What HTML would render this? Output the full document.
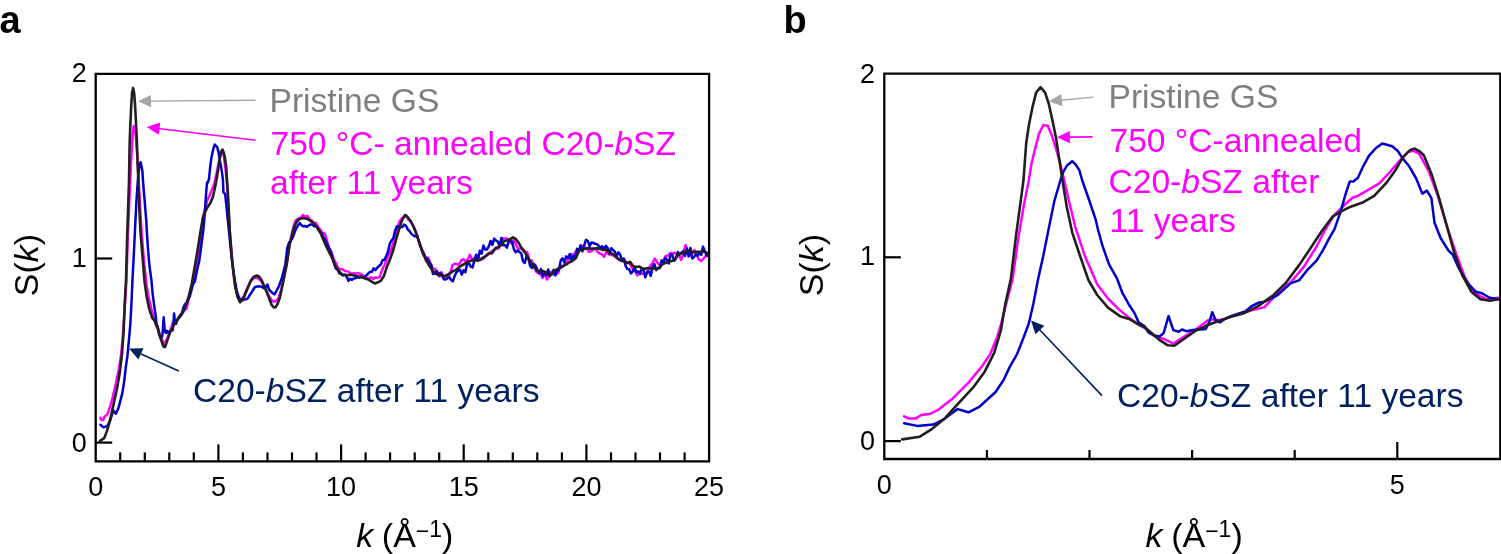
<!DOCTYPE html><html><head><meta charset="utf-8"><style>html,body{margin:0;padding:0;background:#fff;}svg{display:block}</style></head><body>
<svg width="1501" height="554" viewBox="0 0 1501 554" font-family="Liberation Sans, Arial, sans-serif">
<rect width="1501" height="554" fill="#fff"/>
<defs><clipPath id="ca"><rect x="95.7" y="73.8" width="613.4" height="387.6"/></clipPath>
<clipPath id="cb"><rect x="884.3" y="73.7" width="619.0" height="385.3"/></clipPath></defs>
<g clip-path="url(#ca)">
<polyline points="100.4,417.9 101.6,420.0 103.2,420.1 104.5,416.5 106.8,415.2 108.7,411.0 112.0,400.2 115.8,384.0 119.1,367.7 121.0,355.5 122.6,339.2 123.6,325.7 124.6,309.4 126.4,280.5 127.7,240.8 129.0,208.2 130.3,181.1 130.9,164.0 131.8,149.6 132.6,135.2 133.7,126.1 134.8,127.0 135.7,135.2 136.8,149.6 137.8,165.8 138.7,181.1 140.2,208.2 141.5,229.9 143.6,257.0 145.1,271.2 146.6,285.4 149.2,299.9 151.8,310.7 154.4,319.7 157.0,327.0 158.7,331.3 160.9,339.0 162.5,340.1 164.8,344.9 167.4,337.9 170.0,331.4 173.1,321.6 174.4,320.6 176.0,321.6 178.4,318.4 183.5,311.7 186.6,308.4 189.8,294.4 192.9,283.5 196.0,268.3 199.1,247.7 201.2,230.5 203.3,215.9 205.5,206.9 207.7,198.8 209.0,197.0 211.5,190.7 214.1,184.3 216.7,172.6 219.3,159.9 221.0,152.7 222.3,151.8 223.6,154.8 225.8,171.7 227.0,184.2 228.0,200.9 230.2,236.7 232.4,263.0 234.6,282.4 236.8,293.1 239.0,298.8 241.2,299.5 243.4,296.9 245.6,291.8 247.8,287.0 250.0,282.4 252.2,279.7 254.4,277.8 256.6,277.4 258.8,279.1 261.0,280.7 263.2,284.7 265.4,289.0 267.6,293.5 269.8,297.2 272.0,300.7 274.2,301.8 276.4,300.7 278.6,297.8 280.8,291.1 283.0,281.2 285.2,270.8 287.4,259.6 289.6,244.5 291.8,234.3 294.0,224.5 296.2,219.8 298.4,218.7 300.6,217.7 302.8,215.0 305.0,217.1 307.2,215.8 309.4,218.7 311.6,220.4 313.8,222.9 316.0,222.7 318.2,227.0 320.4,229.8 322.6,233.0 324.8,233.6 327.0,240.9 329.2,248.2 331.4,251.9 333.6,258.9 335.8,262.8 338.0,267.8 340.2,269.3 342.4,269.3 344.6,270.8 346.8,271.2 349.0,271.9 351.2,274.3 353.4,273.2 355.6,273.6 357.8,273.1 360.0,273.7 362.2,274.8 364.4,276.5 366.6,277.8 368.8,278.7 371.0,277.2 373.2,278.9 375.4,277.2 377.6,278.0 379.8,276.9 382.0,270.1 384.2,265.7 386.4,260.5 388.6,254.5 390.8,251.1 393.0,243.7 395.2,237.2 397.4,229.0 399.6,221.2 401.8,218.4 404.0,216.9 406.2,215.0 408.4,219.7 410.6,221.7 412.8,224.9 415.0,229.7 417.2,235.1 419.4,244.1 421.6,248.5 423.8,252.5 426.0,261.1 428.2,257.6 430.4,263.0 432.6,268.6 434.8,268.7 437.0,271.0 439.2,276.5 441.4,272.2 443.6,276.4 445.8,275.1 448.0,277.4 450.2,273.4 452.4,265.2 454.6,263.7 456.8,264.2 459.0,264.7 461.2,260.6 463.4,259.1 465.6,261.3 467.8,259.6 470.0,254.7 472.2,260.4 474.4,258.0 476.6,256.7 478.8,260.1 481.0,259.9 483.2,258.9 485.4,256.7 487.6,253.8 489.8,252.6 492.0,251.1 494.2,249.9 496.4,248.8 498.6,248.6 500.8,242.3 503.0,238.4 505.2,238.5 507.4,238.7 509.6,240.2 511.8,243.9 514.0,239.3 516.2,244.7 518.4,249.8 520.6,248.0 522.8,248.6 525.0,251.7 527.2,252.3 529.4,260.0 531.6,260.4 533.8,265.1 536.0,271.6 538.2,273.3 540.4,273.4 542.6,278.0 544.8,273.7 547.0,279.5 549.2,275.2 551.4,271.9 553.6,274.6 555.8,272.1 558.0,273.3 560.2,265.3 562.4,266.9 564.6,264.0 566.8,263.3 569.0,257.9 571.2,254.0 573.4,255.5 575.6,252.0 577.8,254.0 580.0,248.7 582.2,246.4 584.4,247.7 586.6,247.7 588.8,251.7 591.0,251.2 593.2,249.8 595.4,248.2 597.6,251.9 599.8,253.6 602.0,254.3 604.2,256.8 606.4,251.8 608.6,254.2 610.8,255.1 613.0,255.3 615.2,256.7 617.4,258.6 619.6,260.1 621.8,259.1 624.0,259.2 626.2,262.0 628.4,262.3 630.6,265.1 632.8,269.2 635.0,270.5 637.2,275.4 639.4,273.4 641.6,273.3 643.8,274.0 646.0,274.4 648.2,269.8 650.4,265.7 652.6,263.0 654.8,258.6 657.0,262.2 659.2,264.6 661.4,262.9 663.6,259.8 665.8,255.8 668.0,255.8 670.2,252.9 672.4,253.7 674.6,252.6 676.8,253.9 679.0,255.7 681.2,259.8 683.4,252.9 685.6,245.2 687.8,251.5 690.0,255.8 692.2,253.2 694.4,250.1 696.6,254.9 698.8,259.3 701.0,261.1 703.2,258.9 705.4,256.4 707.6,254.9 709.0,253.0" fill="none" stroke="#ff00ff" stroke-width="2.5" stroke-linejoin="round" stroke-linecap="round"/>
<polyline points="100.4,424.7 103.5,427.4 107.4,426.0 110.0,420.6 113.3,410.5 115.8,413.8 118.4,408.3 122.3,393.4 124.2,381.4 125.7,368.0 127.5,355.4 129.0,339.1 130.3,324.6 131.4,304.8 132.4,281.2 133.7,257.0 135.0,229.9 136.3,202.8 137.8,181.1 138.5,173.2 139.4,166.6 140.6,162.2 141.5,166.0 142.4,171.4 143.0,181.1 144.5,199.1 146.3,220.8 146.8,231.2 147.9,247.4 149.4,265.5 151.4,279.9 152.7,294.5 154.4,307.1 155.5,314.1 156.5,323.8 157.8,327.1 158.9,333.6 160.1,336.8 161.5,337.9 162.5,334.6 163.7,317.3 164.8,331.4 166.1,333.0 166.9,330.8 167.9,332.5 169.5,331.4 171.3,330.8 172.6,330.3 173.4,323.8 174.1,313.5 174.9,321.6 176.0,323.8 177.0,320.6 178.4,317.8 182.0,312.8 183.5,307.4 185.1,304.1 186.6,303.0 188.7,298.7 189.8,296.5 192.9,284.5 194.9,281.3 197.0,270.5 199.1,261.8 200.6,251.0 202.3,238.0 203.3,230.5 204.9,212.3 205.9,196.1 207.0,182.5 207.9,182.5 209.0,178.9 210.2,167.2 211.5,157.2 213.3,149.0 214.8,144.5 217.2,147.2 218.5,151.8 219.7,159.9 221.0,166.2 221.7,170.6 222.9,179.4 223.4,192.3 225.2,194.1 226.0,201.8 227.8,219.8 229.6,237.5 231.4,255.3 233.2,269.9 235.0,281.4 236.8,291.0 238.6,296.6 240.4,300.6 242.2,300.5 244.0,299.4 245.8,299.2 247.6,298.6 249.4,295.6 251.2,293.1 253.0,290.0 254.8,287.2 256.6,286.6 258.4,286.2 260.2,286.4 262.0,287.0 263.8,288.2 265.6,287.3 267.4,284.5 269.2,290.0 271.0,291.5 272.8,293.3 274.6,294.3 276.4,291.0 278.2,287.7 280.0,283.2 281.8,278.2 283.6,271.4 285.4,264.2 287.2,248.3 289.0,242.5 290.8,240.9 292.6,237.7 294.4,232.9 296.2,228.4 298.0,225.6 299.8,223.1 301.6,225.3 303.4,226.4 305.2,226.0 307.0,226.8 308.8,225.5 310.6,224.4 312.4,224.8 314.2,226.2 316.0,226.2 317.8,228.4 319.6,232.0 321.4,232.7 323.2,237.2 325.0,239.4 326.8,243.6 328.6,247.4 330.4,251.0 332.2,256.3 334.0,263.3 335.8,268.5 337.6,269.7 339.4,273.4 341.2,274.0 343.0,275.5 344.8,274.7 346.6,276.5 348.4,280.9 350.2,278.8 352.0,279.8 353.8,278.5 355.6,278.2 357.4,277.1 359.2,277.7 361.0,276.3 362.8,277.3 364.6,277.0 366.4,275.3 368.2,273.5 370.0,271.8 371.8,271.8 373.6,268.4 375.4,270.2 377.2,267.8 379.0,266.0 380.8,264.5 382.6,260.1 384.4,260.0 386.2,256.1 388.0,251.8 389.8,243.6 391.6,240.4 393.4,238.1 395.2,230.3 397.0,226.2 398.8,227.2 400.6,227.2 402.4,227.1 404.2,224.6 406.0,225.8 407.8,229.5 409.6,231.2 411.4,233.9 413.2,235.4 415.0,236.4 416.8,235.3 418.6,240.4 420.4,246.3 422.2,251.6 424.0,254.4 425.8,257.7 427.6,259.6 429.4,262.7 431.2,265.0 433.0,273.9 434.8,273.6 436.6,271.4 438.4,274.7 440.2,273.0 442.0,274.9 443.8,279.3 445.6,279.5 447.4,278.4 449.2,277.0 451.0,279.7 452.8,281.3 454.6,276.2 456.4,272.2 458.2,270.8 460.0,269.6 461.8,274.6 463.6,270.2 465.4,272.2 467.2,263.7 469.0,263.3 470.8,266.6 472.6,267.5 474.4,260.1 476.2,254.7 478.0,260.1 479.8,250.8 481.6,253.7 483.4,245.6 485.2,249.6 487.0,249.4 488.8,246.3 490.6,241.0 492.4,244.9 494.2,238.6 496.0,240.5 497.8,241.6 499.6,246.3 501.4,237.9 503.2,245.2 505.0,245.0 506.8,247.6 508.6,241.8 510.4,240.8 512.2,242.1 514.0,249.5 515.8,252.2 517.6,250.6 519.4,251.9 521.2,253.3 523.0,261.3 524.8,263.0 526.6,255.8 528.4,258.3 530.2,266.2 532.0,268.0 533.8,264.0 535.6,265.7 537.4,269.8 539.2,273.3 541.0,269.0 542.8,276.1 544.6,273.2 546.4,275.2 548.2,269.5 550.0,276.1 551.8,273.8 553.6,269.9 555.4,275.4 557.2,270.9 559.0,270.1 560.8,260.3 562.6,258.2 564.4,262.5 566.2,256.4 568.0,258.0 569.8,254.1 571.6,261.6 573.4,255.7 575.2,257.4 577.0,248.8 578.8,251.0 580.6,245.2 582.4,251.3 584.2,245.3 586.0,239.9 587.8,240.8 589.6,246.2 591.4,242.6 593.2,242.8 595.0,243.8 596.8,244.0 598.6,246.0 600.4,247.6 602.2,246.4 604.0,249.5 605.8,245.9 607.6,247.8 609.4,253.9 611.2,248.2 613.0,250.1 614.8,251.5 616.6,256.1 618.4,252.4 620.2,254.6 622.0,260.9 623.8,258.6 625.6,265.8 627.4,269.1 629.2,269.3 631.0,273.4 632.8,271.6 634.6,267.6 636.4,272.2 638.2,271.4 640.0,274.0 641.8,268.7 643.6,270.2 645.4,277.5 647.2,271.5 649.0,271.6 650.8,275.9 652.6,266.4 654.4,264.1 656.2,270.1 658.0,268.1 659.8,267.9 661.6,260.4 663.4,263.9 665.2,258.1 667.0,259.5 668.8,263.5 670.6,254.6 672.4,255.0 674.2,260.8 676.0,258.4 677.8,252.1 679.6,254.6 681.4,252.9 683.2,251.1 685.0,256.0 686.8,248.4 688.6,256.4 690.4,248.0 692.2,258.4 694.0,257.1 695.8,254.4 697.6,255.9 699.4,252.4 701.2,255.0 703.0,246.7 704.8,251.3 706.6,255.5 708.4,256.2 709.0,251.2" fill="none" stroke="#0000cc" stroke-width="2.5" stroke-linejoin="round" stroke-linecap="round"/>
<polyline points="100.0,440.9 104.2,438.2 106.8,431.4 110.0,420.6 113.3,405.6 117.1,388.0 119.7,373.1 122.0,354.2 123.6,331.1 124.7,304.8 126.0,280.5 127.2,235.4 128.1,208.2 129.0,181.1 129.6,144.2 130.3,126.1 131.1,108.1 132.0,93.5 133.1,88.1 134.2,93.5 135.0,104.4 135.9,120.7 136.8,138.8 137.6,162.2 138.3,180.4 139.3,208.2 140.6,233.5 142.4,255.2 144.5,281.2 146.6,296.3 149.2,308.9 152.2,317.9 154.5,320.6 156.5,326.0 157.8,328.1 159.6,334.6 161.5,341.1 163.5,346.6 165.1,347.1 167.4,340.1 170.0,332.5 172.6,327.1 174.7,323.8 178.4,318.4 181.5,314.9 185.1,307.4 188.7,296.5 191.8,283.5 194.9,266.1 198.1,246.7 200.3,232.7 202.9,217.7 205.1,212.3 207.2,207.8 210.2,203.3 212.9,197.0 215.9,183.4 218.0,170.8 219.7,158.1 221.5,150.9 222.6,149.6 223.8,152.7 224.7,156.3 226.1,166.1 227.9,193.2 229.7,230.0 232.2,261.6 235.1,286.2 237.5,297.0 240.0,302.3 243.8,297.7 246.0,292.3 250.9,280.4 253.5,277.0 256.9,275.5 259.5,277.0 261.8,280.4 266.8,292.3 271.8,305.2 273.8,307.5 275.7,307.2 277.5,304.0 279.7,298.3 282.7,284.4 286.7,264.6 289.6,244.7 293.6,228.8 296.5,222.0 299.6,218.9 303.5,218.0 307.5,218.9 313.4,222.9 316.5,226.5 320.0,231.7 325.8,245.4 330.0,253.8 333.0,260.3 336.0,267.2 339.0,271.3 342.0,274.5 345.0,274.7 348.0,275.3 351.0,274.8 354.0,275.4 357.0,276.0 360.0,276.9 363.0,277.7 366.0,278.7 369.0,279.9 372.0,281.9 375.0,283.5 378.0,282.3 381.0,280.6 384.0,275.7 387.0,266.6 390.0,259.4 393.0,251.0 396.0,239.9 399.0,229.4 402.0,220.3 405.0,215.1 408.0,217.5 411.0,221.7 414.0,227.6 417.0,235.7 420.0,244.1 423.0,253.8 426.0,259.7 429.0,265.4 432.0,269.9 435.0,273.1 438.0,275.0 441.0,275.3 444.0,277.0 447.0,275.1 450.0,273.2 453.0,271.1 456.0,269.9 459.0,267.3 462.0,265.2 465.0,263.8 468.0,261.4 471.0,260.7 474.0,259.8 477.0,260.8 480.0,259.7 483.0,257.7 486.0,255.9 489.0,253.5 492.0,253.3 495.0,248.5 498.0,247.2 501.0,245.1 504.0,241.4 507.0,240.3 510.0,239.3 513.0,237.3 516.0,239.2 519.0,243.3 522.0,248.8 525.0,252.4 528.0,257.9 531.0,262.7 534.0,267.2 537.0,270.3 540.0,272.1 543.0,271.0 546.0,272.4 549.0,275.4 552.0,273.5 555.0,270.7 558.0,268.7 561.0,267.5 564.0,265.5 567.0,264.0 570.0,262.0 573.0,260.4 576.0,258.0 579.0,250.3 582.0,249.8 585.0,248.8 588.0,248.3 591.0,248.6 594.0,248.5 597.0,248.2 600.0,248.9 603.0,250.1 606.0,249.5 609.0,252.6 612.0,253.4 615.0,255.8 618.0,258.5 621.0,260.8 624.0,261.3 627.0,263.1 630.0,261.9 633.0,265.9 636.0,267.0 639.0,266.5 642.0,268.2 645.0,268.8 648.0,268.0 651.0,268.7 654.0,268.2 657.0,268.6 660.0,267.3 663.0,263.5 666.0,262.9 669.0,261.5 672.0,261.0 675.0,259.1 678.0,254.6 681.0,253.3 684.0,252.9 687.0,251.0 690.0,250.9 693.0,252.3 696.0,251.7 699.0,251.7 702.0,251.8 705.0,251.7 708.0,253.9 708.7,254.1" fill="none" stroke="#231f20" stroke-width="2.6" stroke-linejoin="round" stroke-linecap="round"/>
</g>
<g clip-path="url(#cb)">
<polyline points="904.1,416.4 909.0,418.5 915.7,418.6 921.1,415.0 930.6,413.7 938.7,409.6 952.3,398.8 968.5,382.6 982.0,366.3 990.2,354.1 996.9,337.9 1001.0,324.4 1005.0,308.1 1012.6,279.3 1018.1,239.6 1023.5,207.1 1028.9,180.0 1031.6,163.0 1035.2,148.6 1038.8,134.2 1043.3,125.1 1047.8,126.0 1051.4,134.2 1056.0,148.6 1060.5,164.8 1064.1,180.0 1070.4,207.1 1075.8,228.7 1084.8,255.8 1091.0,270.0 1097.2,284.2 1108.0,298.6 1118.9,309.4 1129.7,318.4 1140.5,325.7 1147.8,330.0 1157.1,337.7 1163.6,338.8 1173.3,343.6 1184.2,336.6 1195.0,330.1 1208.0,320.3 1213.4,319.3 1219.9,320.3 1230.0,317.1 1251.6,310.4 1264.6,307.1 1277.6,293.1 1290.6,282.3 1303.6,267.1 1316.6,246.5 1325.4,229.3 1334.4,214.8 1343.5,205.8 1352.5,197.7 1357.9,195.9 1368.7,189.6 1379.6,183.2 1390.4,171.5 1401.2,158.9 1408.4,151.7 1413.9,150.8 1419.2,153.8 1428.4,170.6 1437.6,195.1 1446.8,225.8 1456.0,253.4 1465.1,277.9 1474.3,293.2 1486.6,299.3 1498.8,297.8" fill="none" stroke="#ff00ff" stroke-width="2.5" stroke-linejoin="round" stroke-linecap="round"/>
<polyline points="904.1,423.2 917.1,425.9 933.3,424.5 944.1,419.1 957.7,409.1 968.5,412.3 979.3,406.9 995.6,392.0 1003.6,380.0 1009.9,366.6 1017.1,354.0 1023.5,337.8 1028.9,323.3 1033.4,303.5 1037.9,280.0 1043.3,255.8 1048.7,228.7 1054.2,201.7 1060.5,180.0 1063.2,172.1 1067.0,165.5 1072.2,161.2 1076.0,165.0 1079.4,170.3 1082.1,180.0 1088.4,198.0 1095.7,219.7 1098.1,230.0 1102.6,246.2 1109.0,264.3 1117.1,278.7 1122.5,293.2 1129.7,305.8 1134.3,312.8 1138.7,322.5 1144.1,325.8 1148.4,332.3 1153.8,335.5 1159.3,336.6 1163.6,333.3 1168.5,316.0 1173.3,330.1 1178.8,331.7 1182.0,329.5 1186.3,331.2 1192.8,330.1 1200.4,329.5 1205.8,329.0 1209.1,322.5 1212.3,312.2 1215.6,320.3 1219.9,322.5 1224.3,319.3 1230.0,316.5 1245.2,311.5 1251.6,306.1 1258.1,302.8 1264.6,301.7 1273.3,297.4 1277.6,295.2 1290.6,283.3 1299.3,280.1 1307.9,269.3 1316.6,260.6 1323.1,249.8 1330.0,236.8 1334.4,229.3 1340.8,211.2 1345.3,195.0 1349.8,181.4 1353.4,181.4 1357.9,177.8 1363.3,166.1 1368.7,156.2 1376.0,148.0 1382.3,143.5 1392.2,146.2 1397.6,150.8 1403.0,158.9 1408.4,165.2 1411.0,169.5 1416.1,178.3 1422.3,193.6 1426.9,190.6 1431.4,198.2 1434.5,222.7 1440.6,238.0 1448.3,250.3 1452.9,254.9 1459.0,268.7 1468.2,284.0 1475.8,291.7 1482.0,293.2 1489.7,297.8 1498.8,299.3" fill="none" stroke="#0000cc" stroke-width="2.5" stroke-linejoin="round" stroke-linecap="round"/>
<polyline points="902.2,439.4 919.8,436.7 930.6,429.9 944.1,419.1 957.7,404.2 973.9,386.6 984.7,371.7 994.2,352.8 1001.0,329.8 1005.4,303.5 1010.8,279.3 1016.2,234.2 1019.9,207.1 1023.5,180.0 1026.2,143.2 1028.9,125.1 1032.5,107.1 1036.1,92.6 1040.6,87.2 1045.1,92.6 1048.7,103.5 1052.3,119.7 1056.0,137.8 1059.6,161.2 1062.3,179.3 1066.8,207.1 1072.2,232.3 1079.4,254.0 1088.4,280.0 1097.2,295.0 1108.0,307.6 1120.7,316.6 1130.0,319.3 1138.7,324.7 1144.1,326.8 1151.7,333.3 1159.3,339.8 1167.9,345.3 1174.4,345.8 1184.2,338.8 1195.0,331.2 1205.8,325.8 1214.5,322.5 1230.0,317.1 1243.0,313.6 1258.1,306.1 1273.3,295.2 1286.3,282.3 1299.3,264.9 1312.3,245.5 1321.5,231.5 1332.6,216.6 1341.7,211.2 1350.7,206.7 1363.3,202.2 1374.2,195.9 1386.8,182.3 1395.8,169.7 1403.0,157.1 1410.3,149.9 1414.8,148.6 1420.0,151.7 1423.8,155.3 1431.4,173.7 1439.1,198.2 1446.8,225.8 1454.4,253.4 1462.1,274.8 1471.3,291.7 1480.5,299.3 1489.7,300.8 1498.8,299.3" fill="none" stroke="#231f20" stroke-width="2.6" stroke-linejoin="round" stroke-linecap="round"/>
</g>
<path d="M95.7,73.8 H709.1 V461.4 H95.7 Z" fill="none" stroke="#000" stroke-width="2.3"/>
<line x1="120.2" y1="461.4" x2="120.2" y2="452.4" stroke="#000" stroke-width="2.2"/>
<line x1="144.8" y1="461.4" x2="144.8" y2="452.4" stroke="#000" stroke-width="2.2"/>
<line x1="169.3" y1="461.4" x2="169.3" y2="452.4" stroke="#000" stroke-width="2.2"/>
<line x1="193.8" y1="461.4" x2="193.8" y2="452.4" stroke="#000" stroke-width="2.2"/>
<line x1="218.4" y1="461.4" x2="218.4" y2="444.4" stroke="#000" stroke-width="2.2"/>
<line x1="242.9" y1="461.4" x2="242.9" y2="452.4" stroke="#000" stroke-width="2.2"/>
<line x1="267.5" y1="461.4" x2="267.5" y2="452.4" stroke="#000" stroke-width="2.2"/>
<line x1="292.0" y1="461.4" x2="292.0" y2="452.4" stroke="#000" stroke-width="2.2"/>
<line x1="316.5" y1="461.4" x2="316.5" y2="452.4" stroke="#000" stroke-width="2.2"/>
<line x1="341.1" y1="461.4" x2="341.1" y2="444.4" stroke="#000" stroke-width="2.2"/>
<line x1="365.6" y1="461.4" x2="365.6" y2="452.4" stroke="#000" stroke-width="2.2"/>
<line x1="390.1" y1="461.4" x2="390.1" y2="452.4" stroke="#000" stroke-width="2.2"/>
<line x1="414.7" y1="461.4" x2="414.7" y2="452.4" stroke="#000" stroke-width="2.2"/>
<line x1="439.2" y1="461.4" x2="439.2" y2="452.4" stroke="#000" stroke-width="2.2"/>
<line x1="463.7" y1="461.4" x2="463.7" y2="444.4" stroke="#000" stroke-width="2.2"/>
<line x1="488.3" y1="461.4" x2="488.3" y2="452.4" stroke="#000" stroke-width="2.2"/>
<line x1="512.8" y1="461.4" x2="512.8" y2="452.4" stroke="#000" stroke-width="2.2"/>
<line x1="537.3" y1="461.4" x2="537.3" y2="452.4" stroke="#000" stroke-width="2.2"/>
<line x1="561.9" y1="461.4" x2="561.9" y2="452.4" stroke="#000" stroke-width="2.2"/>
<line x1="586.4" y1="461.4" x2="586.4" y2="444.4" stroke="#000" stroke-width="2.2"/>
<line x1="611.0" y1="461.4" x2="611.0" y2="452.4" stroke="#000" stroke-width="2.2"/>
<line x1="635.5" y1="461.4" x2="635.5" y2="452.4" stroke="#000" stroke-width="2.2"/>
<line x1="660.0" y1="461.4" x2="660.0" y2="452.4" stroke="#000" stroke-width="2.2"/>
<line x1="684.6" y1="461.4" x2="684.6" y2="452.4" stroke="#000" stroke-width="2.2"/>
<line x1="95.7" y1="442.6" x2="112.2" y2="442.6" stroke="#000" stroke-width="2.2"/>
<line x1="95.7" y1="258.5" x2="112.2" y2="258.5" stroke="#000" stroke-width="2.2"/>
<path d="M884.3,73.7 H1500.3 V459.0 H884.3 Z" fill="none" stroke="#000" stroke-width="2.3"/>
<line x1="986.9" y1="459.0" x2="986.9" y2="450.0" stroke="#000" stroke-width="2.2"/>
<line x1="1089.5" y1="459.0" x2="1089.5" y2="450.0" stroke="#000" stroke-width="2.2"/>
<line x1="1192.1" y1="459.0" x2="1192.1" y2="450.0" stroke="#000" stroke-width="2.2"/>
<line x1="1294.7" y1="459.0" x2="1294.7" y2="450.0" stroke="#000" stroke-width="2.2"/>
<line x1="1397.3" y1="459.0" x2="1397.3" y2="442.0" stroke="#000" stroke-width="2.2"/>
<line x1="884.3" y1="441.1" x2="900.8" y2="441.1" stroke="#000" stroke-width="2.2"/>
<line x1="884.3" y1="257.3" x2="900.8" y2="257.3" stroke="#000" stroke-width="2.2"/>
<text transform="translate(86.8,452.2) scale(1,1.030)" font-size="27" text-anchor="end" fill="#000">0</text>
<text transform="translate(86.8,267.0) scale(1,1.030)" font-size="27" text-anchor="end" fill="#000">1</text>
<text transform="translate(86.8,82.2) scale(1,1.030)" font-size="27" text-anchor="end" fill="#000">2</text>
<text transform="translate(95.7,496.2) scale(1,1.030)" font-size="27" text-anchor="middle" fill="#000">0</text>
<text transform="translate(218.4,496.2) scale(1,1.030)" font-size="27" text-anchor="middle" fill="#000">5</text>
<text transform="translate(341.1,496.2) scale(1,1.030)" font-size="27" text-anchor="middle" fill="#000">10</text>
<text transform="translate(463.7,496.2) scale(1,1.030)" font-size="27" text-anchor="middle" fill="#000">15</text>
<text transform="translate(586.4,496.2) scale(1,1.030)" font-size="27" text-anchor="middle" fill="#000">20</text>
<text transform="translate(709.1,496.2) scale(1,1.030)" font-size="27" text-anchor="middle" fill="#000">25</text>
<text transform="translate(875.0,449.7) scale(1,1.030)" font-size="27" text-anchor="end" fill="#000">0</text>
<text transform="translate(875.0,265.3) scale(1,1.030)" font-size="27" text-anchor="end" fill="#000">1</text>
<text transform="translate(875.0,83.0) scale(1,1.030)" font-size="27" text-anchor="end" fill="#000">2</text>
<text transform="translate(884.3,493.7) scale(1,1.030)" font-size="27" text-anchor="middle" fill="#000">0</text>
<text transform="translate(1397.3,493.7) scale(1,1.030)" font-size="27" text-anchor="middle" fill="#000">5</text>
<text transform="translate(-0.5,32.5) scale(1,1.000)" font-size="38" text-anchor="start" fill="#000" font-weight="bold">a</text>
<text transform="translate(783.5,32.5) scale(1,1.000)" font-size="38" text-anchor="start" fill="#000" font-weight="bold">b</text>
<text transform="translate(38.2,265.0) rotate(-90) scale(1,1.000)" font-size="34" text-anchor="middle">S(<tspan font-style="italic">k</tspan>)</text>
<text transform="translate(822.6,265.0) rotate(-90) scale(1,1.000)" font-size="34" text-anchor="middle">S(<tspan font-style="italic">k</tspan>)</text>
<text transform="translate(356.3,546.8) scale(1,1.000)" font-size="34"><tspan font-style="italic">k</tspan><tspan dx="-0.9"> (</tspan>Å<tspan font-size="23" dy="-8.2">−</tspan><tspan font-size="23" dy="-1.8">1</tspan><tspan dy="10">)</tspan></text>
<text transform="translate(1145.6,546.8) scale(1,1.000)" font-size="34"><tspan font-style="italic">k</tspan><tspan dx="-0.9"> (</tspan>Å<tspan font-size="23" dy="-8.2">−</tspan><tspan font-size="23" dy="-1.8">1</tspan><tspan dy="10">)</tspan></text>
<text transform="translate(269.5,112.0) scale(1,1.000)" font-size="33.6" text-anchor="start" fill="#7f7f7f">Pristine GS</text>
<text transform="translate(270.5,154.5) scale(1,1.000)" font-size="33.6" text-anchor="start" fill="#ff00ff">750 °C- annealed C20-<tspan font-style="italic">b</tspan>SZ</text>
<text transform="translate(270.0,194.0) scale(1,1.000)" font-size="33.6" text-anchor="start" fill="#ff00ff">after 11 years</text>
<text transform="translate(193.0,401.5) scale(1,1.000)" font-size="33.6" text-anchor="start" fill="#002060">C20-<tspan font-style="italic">b</tspan>SZ after 11 years</text>
<line x1="255.5" y1="100.2" x2="150.0" y2="101.1" stroke="#a6a6a6" stroke-width="1.4"/><polygon points="138.0,101.2 150.9,94.9 151.1,107.3" fill="#a6a6a6"/>
<line x1="255.5" y1="140.3" x2="158.5" y2="128.5" stroke="#ff00ff" stroke-width="1.6"/><polygon points="146.6,127.1 160.3,122.5 158.8,134.8" fill="#ff00ff"/>
<line x1="178.8" y1="370.9" x2="140.0" y2="353.5" stroke="#002060" stroke-width="1.6"/><polygon points="129.1,348.6 143.5,348.3 138.4,359.6" fill="#002060"/>
<text transform="translate(1108.5,108.3) scale(1,1.000)" font-size="33.6" text-anchor="start" fill="#7f7f7f">Pristine GS</text>
<text transform="translate(1109.5,151.8) scale(1,1.000)" font-size="33.6" text-anchor="start" fill="#ff00ff">750 °C-annealed</text>
<text transform="translate(1108.5,192.6) scale(1,1.000)" font-size="33.6" text-anchor="start" fill="#ff00ff">C20-<tspan font-style="italic">b</tspan>SZ after</text>
<text transform="translate(1109.5,231.6) scale(1,1.000)" font-size="33.6" text-anchor="start" fill="#ff00ff">11 years</text>
<text transform="translate(1117.0,407.3) scale(1,1.000)" font-size="33.6" text-anchor="start" fill="#002060">C20-<tspan font-style="italic">b</tspan>SZ after 11 years</text>
<line x1="1093.5" y1="97.1" x2="1060.8" y2="100.2" stroke="#a6a6a6" stroke-width="1.4"/><polygon points="1048.9,101.3 1061.3,93.9 1062.4,106.3" fill="#a6a6a6"/>
<line x1="1092.5" y1="136.9" x2="1068.9" y2="137.1" stroke="#ff00ff" stroke-width="1.6"/><polygon points="1056.9,137.2 1069.8,130.9 1070.0,143.3" fill="#ff00ff"/>
<line x1="1102.0" y1="395.6" x2="1039.2" y2="329.3" stroke="#002060" stroke-width="1.6"/><polygon points="1031.0,320.6 1044.4,325.8 1035.4,334.3" fill="#002060"/>
</svg></body></html>
